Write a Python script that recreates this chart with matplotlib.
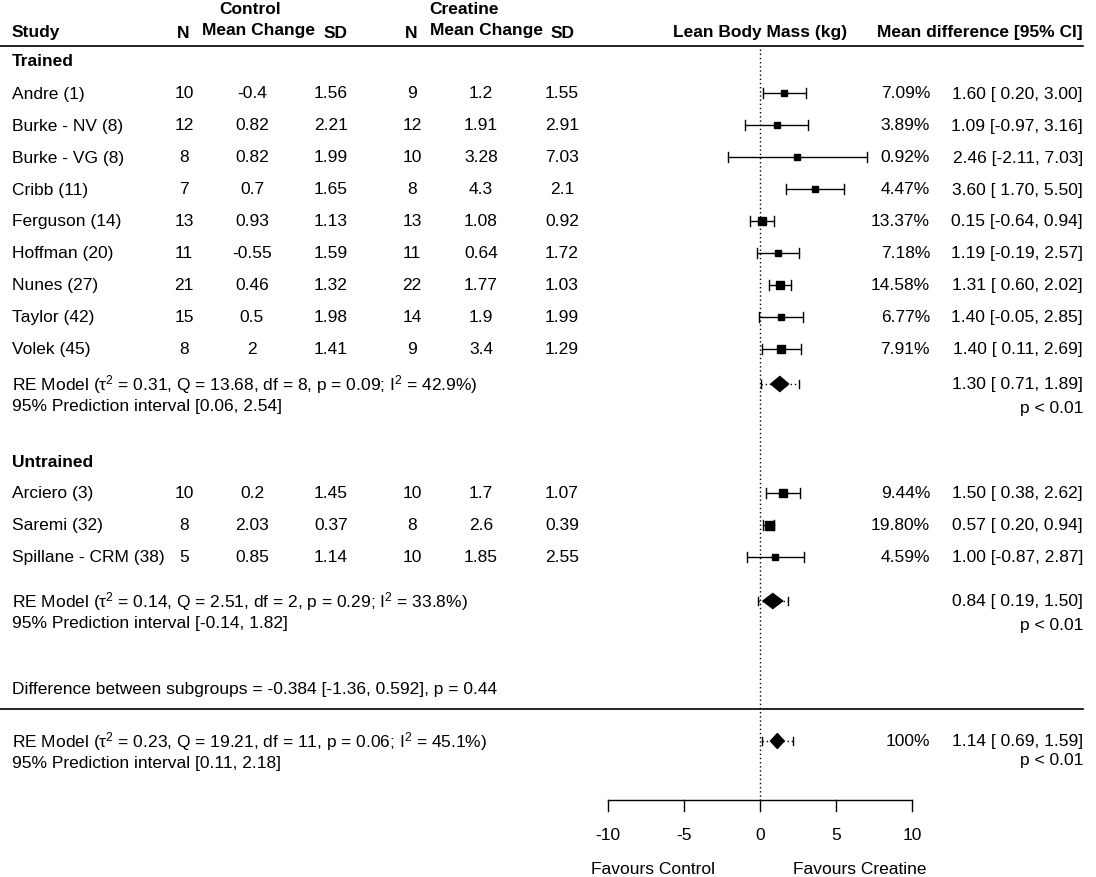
import matplotlib.pyplot as plt

plt.rcParams['font.family'] = ['Liberation Sans', 'DejaVu Sans']
plt.rcParams['mathtext.fontset'] = 'custom'
plt.rcParams['mathtext.rm'] = 'Liberation Sans'
plt.rcParams['mathtext.it'] = 'Liberation Sans:italic'
plt.rcParams['mathtext.bf'] = 'Liberation Sans:bold'

# Trained subgroup
tr_names = ['Andre (1)', 'Burke - NV (8)', 'Burke - VG (8)', 'Cribb (11)', 'Ferguson (14)',
            'Hoffman (20)', 'Nunes (27)', 'Taylor (42)', 'Volek (45)']
tr_n_con = [10, 12, 8, 7, 13, 11, 21, 15, 8]
tr_m_con = [-0.4, 0.82, 0.82, 0.7, 0.93, -0.55, 0.46, 0.5, 2]
tr_sd_con = [1.56, 2.21, 1.99, 1.65, 1.13, 1.59, 1.32, 1.98, 1.41]
tr_n_cr = [9, 12, 10, 8, 13, 11, 22, 14, 9]
tr_m_cr = [1.2, 1.91, 3.28, 4.3, 1.08, 0.64, 1.77, 1.9, 3.4]
tr_sd_cr = [1.55, 2.91, 7.03, 2.1, 0.92, 1.72, 1.03, 1.99, 1.29]
tr_w = [7.09, 3.89, 0.92, 4.47, 13.37, 7.18, 14.58, 6.77, 7.91]
tr_est = [1.60, 1.09, 2.46, 3.60, 0.15, 1.19, 1.31, 1.40, 1.40]
tr_lo = [0.20, -0.97, -2.11, 1.70, -0.64, -0.19, 0.60, -0.05, 0.11]
tr_hi = [3.00, 3.16, 7.03, 5.50, 0.94, 2.57, 2.02, 2.85, 2.69]

# Untrained subgroup
un_names = ['Arciero (3)', 'Saremi (32)', 'Spillane - CRM (38)']
un_n_con = [10, 8, 5]
un_m_con = [0.2, 2.03, 0.85]
un_sd_con = [1.45, 0.37, 1.14]
un_n_cr = [10, 8, 10]
un_m_cr = [1.7, 2.6, 1.85]
un_sd_cr = [1.07, 0.39, 2.55]
un_w = [9.44, 19.80, 4.59]
un_est = [1.50, 0.57, 1.00]
un_lo = [0.38, 0.20, -0.87]
un_hi = [2.62, 0.94, 2.87]

# pooled models: estimate, ci low, ci high, pi low, pi high
re_trained = [1.30, 0.71, 1.89, 0.06, 2.54]
re_untrained = [0.84, 0.19, 1.50, -0.14, 1.82]
re_overall = [1.14, 0.69, 1.59, 0.11, 2.18]
re_trained_txt = 'RE Model (τ$^2$ = 0.31, Q = 13.68, df = 8, p = 0.09; I$^2$ = 42.9%)'
re_untrained_txt = 'RE Model (τ$^2$ = 0.14, Q = 2.51, df = 2, p = 0.29; I$^2$ = 33.8%)'
re_overall_txt = 'RE Model (τ$^2$ = 0.23, Q = 19.21, df = 11, p = 0.06; I$^2$ = 45.1%)'
diff_txt = 'Difference between subgroups = -0.384 [-1.36, 0.592], p = 0.44'

x_ticks = [-10, -5, 0, 5, 10]

fig = plt.figure(figsize=(10.96, 8.78), dpi=100)
# text layer in pixel coordinates
tx = fig.add_axes([0, 0, 1, 1])
tx.set_xlim(0, 1096)
tx.set_ylim(878, 0)
tx.axis('off')
# forest layer: effect units on x, same rows on y
ax = fig.add_axes([0, 0, 1, 1])
ax.set_xlim((0 - 760) / 15.2, (1096 - 760) / 15.2)
ax.set_ylim(878, 0)
ax.axis('off')

fs = 12.5

# header
tx.text(250, 9, 'Control', ha='center', va='center', fontsize=fs, fontweight='bold')
tx.text(464, 9, 'Creatine', ha='center', va='center', fontsize=fs, fontweight='bold')
hdr = [(12, 32, 'Study', 'left'), (183, 34, 'N', 'center'), (258, 31, 'Mean Change', 'center'),
       (336, 34, 'SD', 'center'), (411, 34, 'N', 'center'), (486, 31, 'Mean Change', 'center'),
       (563, 34, 'SD', 'center'), (760, 32, 'Lean Body Mass (kg)', 'center'),
       (1083, 32, 'Mean difference [95% CI]', 'right')]
for x, y, s, ha in hdr:
    tx.text(x, y, s, ha=ha, va='center', fontsize=fs, fontweight='bold')
tx.plot([0, 1083], [47, 47], color='black', lw=1.2)
tx.plot([0, 1083], [710, 710], color='black', lw=1.2)

wmin = min(tr_w + un_w)
wmax = max(tr_w + un_w)


def study_rows(ys, names, nc, mc, sc, nt, mt, st, w, est, lo, hi):
    for i, y in enumerate(ys):
        tx.text(12, y, names[i], ha='left', va='center', fontsize=fs)
        tx.text(184, y, str(nc[i]), ha='center', va='center', fontsize=fs)
        tx.text(252, y, f'{mc[i]:g}', ha='center', va='center', fontsize=fs)
        tx.text(331, y, f'{sc[i]:g}', ha='center', va='center', fontsize=fs)
        tx.text(412, y, str(nt[i]), ha='center', va='center', fontsize=fs)
        tx.text(481, y, f'{mt[i]:g}', ha='center', va='center', fontsize=fs)
        tx.text(562, y, f'{st[i]:g}', ha='center', va='center', fontsize=fs)
        tx.text(930, y, f'{w[i]:.2f}%', ha='right', va='center', fontsize=fs)
        tx.text(1083, y, f'{est[i]:.2f} [{lo[i]:5.2f}, {hi[i]:.2f}]',
                ha='right', va='center', fontsize=fs)
        ax.plot([lo[i], hi[i]], [y, y], color='black', lw=1)
        ax.plot([lo[i], lo[i]], [y - 5, y + 5], color='black', lw=1)
        ax.plot([hi[i], hi[i]], [y - 5, y + 5], color='black', lw=1)
        size = (6 + 3 * (w[i] - wmin) / (wmax - wmin)) * 0.72
        ax.plot(est[i], y, marker='s', ms=size, color='black', mec='black')


def model_row(y, m, label, pi_label, weight=None):
    est, lo, hi, plo, phi = m
    tx.text(12, y, label, ha='left', va='center', fontsize=fs)
    tx.text(12, y + 22, pi_label, ha='left', va='center', fontsize=fs)
    if weight:
        tx.text(930, y, weight, ha='right', va='center', fontsize=fs)
    tx.text(1083, y, f'{est:.2f} [{lo:5.2f}, {hi:.2f}]', ha='right', va='center', fontsize=fs)
    ax.plot([plo, phi], [y, y], color='black', lw=1, ls=(0, (1, 2)))
    ax.plot([plo, plo], [y - 4, y + 4], color='black', lw=1)
    ax.plot([phi, phi], [y - 4, y + 4], color='black', lw=1)
    ax.fill([lo, est, hi, est], [y, y - 7.5, y, y + 7.5], color='black', zorder=3)


tx.text(12, 62, 'Trained', ha='left', va='center', fontsize=fs, fontweight='bold')
study_rows([94 + 32 * i for i in range(9)], tr_names, tr_n_con, tr_m_con, tr_sd_con,
           tr_n_cr, tr_m_cr, tr_sd_cr, tr_w, tr_est, tr_lo, tr_hi)
model_row(385, re_trained, re_trained_txt, '95% Prediction interval [0.06, 2.54]')
tx.text(1083, 409, 'p < 0.01', ha='right', va='center', fontsize=fs)

tx.text(12, 463, 'Untrained', ha='left', va='center', fontsize=fs, fontweight='bold')
study_rows([494 + 32 * i for i in range(3)], un_names, un_n_con, un_m_con, un_sd_con,
           un_n_cr, un_m_cr, un_sd_cr, un_w, un_est, un_lo, un_hi)
model_row(602, re_untrained, re_untrained_txt, '95% Prediction interval [-0.14, 1.82]')
tx.text(1083, 626, 'p < 0.01', ha='right', va='center', fontsize=fs)

tx.text(12, 690, diff_txt, ha='left', va='center', fontsize=fs)

model_row(742, re_overall, re_overall_txt, '95% Prediction interval [0.11, 2.18]', weight='100%')
tx.text(1083, 761, 'p < 0.01', ha='right', va='center', fontsize=fs)

# zero line
ax.plot([0, 0], [50, 801], color='black', lw=1, ls=(0, (1, 2)))

# x axis
ax.plot([x_ticks[0], x_ticks[-1]], [801, 801], color='black', lw=1)
for t in x_ticks:
    ax.plot([t, t], [801, 812], color='black', lw=1)
    ax.text(t, 836, f'{t}', ha='center', va='center', fontsize=fs)
tx.text(653, 870, 'Favours Control', ha='center', va='center', fontsize=fs)
tx.text(860, 870, 'Favours Creatine', ha='center', va='center', fontsize=fs)

fig.savefig('out.png', dpi=100)
